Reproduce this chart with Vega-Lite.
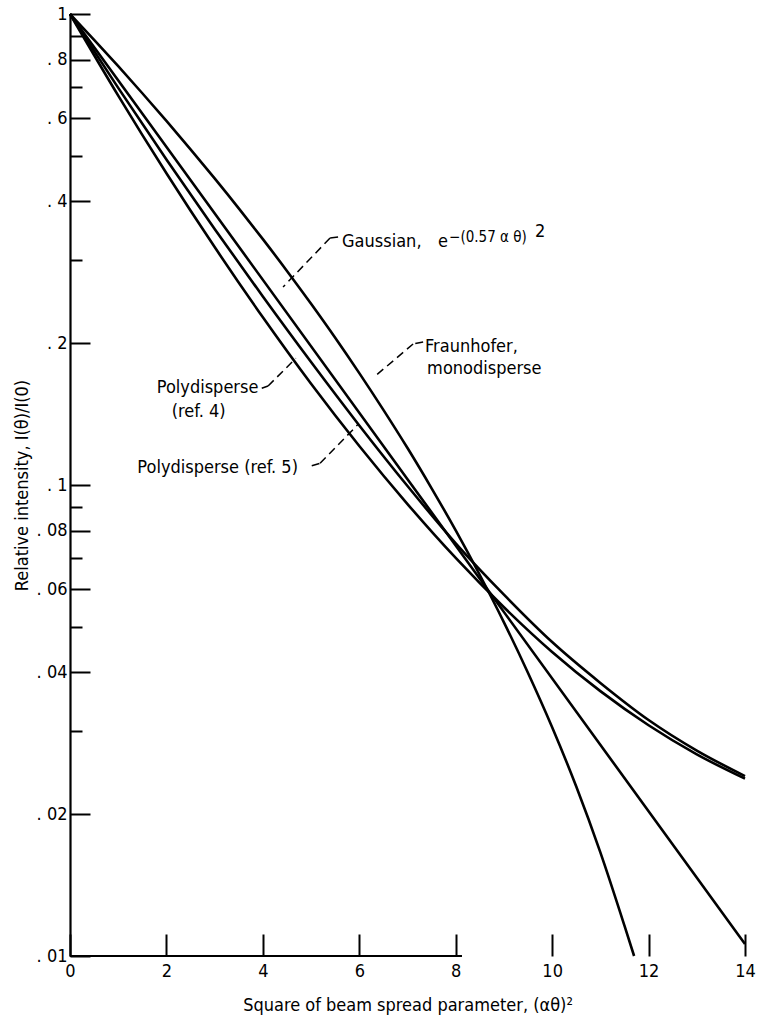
{
  "$schema": "https://vega.github.io/schema/vega-lite/v6.json",
  "width": 675,
  "height": 942,
  "autosize": {"type": "none"},
  "padding": {"left": 70, "top": 14, "right": 15, "bottom": 60},
  "background": "white",
  "config": {"view": {"stroke": null}, "font": "Liberation Sans Narrow, DejaVu Sans Condensed, Liberation Sans, sans-serif"},
  "datasets": {
    "curves": [
      {"s": "Gaussian", "x": 0, "y": 1},
      {"s": "Gaussian", "x": 7, "y": 0.1029},
      {"s": "Gaussian", "x": 14, "y": 0.0106},
      {"s": "Fraunhofer", "x": 0, "y": 1},
      {"s": "Fraunhofer", "x": 0.5, "y": 0.8813},
      {"s": "Fraunhofer", "x": 1, "y": 0.7746},
      {"s": "Fraunhofer", "x": 1.5, "y": 0.6788},
      {"s": "Fraunhofer", "x": 2, "y": 0.5929},
      {"s": "Fraunhofer", "x": 2.5, "y": 0.5161},
      {"s": "Fraunhofer", "x": 3, "y": 0.4476},
      {"s": "Fraunhofer", "x": 3.5, "y": 0.3867},
      {"s": "Fraunhofer", "x": 4, "y": 0.3326},
      {"s": "Fraunhofer", "x": 4.5, "y": 0.2848},
      {"s": "Fraunhofer", "x": 5, "y": 0.2425},
      {"s": "Fraunhofer", "x": 5.5, "y": 0.2054},
      {"s": "Fraunhofer", "x": 6, "y": 0.1728},
      {"s": "Fraunhofer", "x": 6.5, "y": 0.1444},
      {"s": "Fraunhofer", "x": 7, "y": 0.1198},
      {"s": "Fraunhofer", "x": 7.5, "y": 0.0984},
      {"s": "Fraunhofer", "x": 8, "y": 0.0801},
      {"s": "Fraunhofer", "x": 8.5, "y": 0.0644},
      {"s": "Fraunhofer", "x": 9, "y": 0.0511},
      {"s": "Fraunhofer", "x": 9.5, "y": 0.0399},
      {"s": "Fraunhofer", "x": 10, "y": 0.0306},
      {"s": "Fraunhofer", "x": 10.5, "y": 0.0229},
      {"s": "Fraunhofer", "x": 11, "y": 0.0166},
      {"s": "Fraunhofer", "x": 11.5, "y": 0.0116},
      {"s": "Fraunhofer", "x": 11.7, "y": 0.0100},
      {"s": "Poly4", "x": 0, "y": 1},
      {"s": "Poly4", "x": 1, "y": 0.671},
      {"s": "Poly4", "x": 2, "y": 0.459},
      {"s": "Poly4", "x": 3, "y": 0.320},
      {"s": "Poly4", "x": 4, "y": 0.227},
      {"s": "Poly4", "x": 5, "y": 0.164},
      {"s": "Poly4", "x": 6, "y": 0.121},
      {"s": "Poly4", "x": 7, "y": 0.0911},
      {"s": "Poly4", "x": 8, "y": 0.0700},
      {"s": "Poly4", "x": 9, "y": 0.0550},
      {"s": "Poly4", "x": 10, "y": 0.0442},
      {"s": "Poly4", "x": 11, "y": 0.0365},
      {"s": "Poly4", "x": 12, "y": 0.0309},
      {"s": "Poly4", "x": 13, "y": 0.0268},
      {"s": "Poly4", "x": 14, "y": 0.0238},
      {"s": "Poly5", "x": 0, "y": 1},
      {"s": "Poly5", "x": 1, "y": 0.697},
      {"s": "Poly5", "x": 2, "y": 0.491},
      {"s": "Poly5", "x": 3, "y": 0.3496},
      {"s": "Poly5", "x": 4, "y": 0.2513},
      {"s": "Poly5", "x": 5, "y": 0.1824},
      {"s": "Poly5", "x": 6, "y": 0.1338},
      {"s": "Poly5", "x": 7, "y": 0.0995},
      {"s": "Poly5", "x": 8, "y": 0.0752},
      {"s": "Poly5", "x": 9, "y": 0.0585},
      {"s": "Poly5", "x": 10, "y": 0.0464},
      {"s": "Poly5", "x": 11, "y": 0.0380},
      {"s": "Poly5", "x": 12, "y": 0.0317},
      {"s": "Poly5", "x": 13, "y": 0.0273},
      {"s": "Poly5", "x": 14, "y": 0.0241}
    ],
    "leaders": [
      {"x1": 5.560, "y1": 0.3361, "x2": 5.394, "y2": 0.3345},
      {"x1": 5.394, "y1": 0.3345, "x2": 4.419, "y2": 0.2633},
      {"x1": 7.324, "y1": 0.2012, "x2": 7.116, "y2": 0.1992},
      {"x1": 7.116, "y1": 0.1992, "x2": 6.328, "y2": 0.1703},
      {"x1": 3.977, "y1": 0.1605, "x2": 4.108, "y2": 0.1622},
      {"x1": 4.108, "y1": 0.1622, "x2": 4.683, "y2": 0.1858},
      {"x1": 5.014, "y1": 0.1099, "x2": 5.187, "y2": 0.1112},
      {"x1": 5.187, "y1": 0.1112, "x2": 5.981, "y2": 0.1347}
    ],
    "labels": [
      {"t": "Gaussian,", "x": 5.643, "y": 0.3200},
      {"t": "e", "x": 7.635, "y": 0.3200},
      {"t": "Fraunhofer,", "x": 7.365, "y": 0.1916},
      {"t": "monodisperse", "x": 7.407, "y": 0.1720},
      {"t": "Polydisperse", "x": 1.80, "y": 0.1568},
      {"t": "(ref. 4)", "x": 2.11, "y": 0.1396},
      {"t": "Polydisperse (ref. 5)", "x": 1.397, "y": 0.1059}
    ],
    "sup1": [{"t": "−(0.57 α θ)", "x": 7.863, "y": 0.3281}],
    "sup2": [{"t": "2", "x": 9.647, "y": 0.3361}],
    "baseline": [{"x": 0, "x2": 8.13, "y": 0.01}]
  },
  "layer": [
    {
      "data": {"name": "curves"},
      "mark": {"type": "line", "color": "black", "strokeWidth": 2.6, "interpolate": "monotone"},
      "encoding": {
        "x": {
          "field": "x", "type": "quantitative",
          "scale": {"domain": [0, 14], "nice": false, "zero": false},
          "axis": {
            "values": [0, 2, 4, 6, 8, 10, 12, 14],
            "format": "d",
            "tickSize": -22, "tickWidth": 2, "tickColor": "black",
            "domain": false, "grid": false, "labelFlush": false,
            "labelFontSize": 18, "labelColor": "black", "labelPadding": 28,
            "title": "Square of beam spread parameter, (αθ)²",
            "titleFontSize": 18, "titleFontWeight": "normal", "titleColor": "black", "titlePadding": 16
          }
        },
        "y": {
          "field": "y", "type": "quantitative",
          "scale": {"type": "log", "domain": [0.01, 1], "nice": false},
          "axis": {
            "values": [1, 0.8, 0.6, 0.4, 0.2, 0.1, 0.08, 0.06, 0.04, 0.02, 0.01],
            "labelExpr": "datum.value >= 1 ? '1' : replace(format(datum.value, '.2~f'), '0.', '. ')",
            "tickSize": -20, "tickWidth": 2, "tickColor": "black",
            "domain": true, "domainColor": "black", "domainWidth": 2.2, "grid": false, "labelFlush": false,
            "labelFontSize": 18, "labelColor": "black", "labelPadding": 23,
            "title": "Relative intensity, I(θ)/I(0)",
            "titleFontSize": 18, "titleFontWeight": "normal", "titleColor": "black", "titlePadding": 5
          }
        },
        "detail": {"field": "s"}
      }
    },
    {
      "data": {"name": "baseline"},
      "mark": {"type": "rule", "color": "black", "strokeWidth": 2},
      "encoding": {
        "x": {"field": "x", "type": "quantitative", "scale": {"domain": [0, 14], "nice": false, "zero": false}},
        "x2": {"field": "x2"},
        "y": {
          "field": "y", "type": "quantitative",
          "scale": {"type": "log", "domain": [0.01, 1], "nice": false},
          "axis": {
            "orient": "left",
            "values": [0.9, 0.7, 0.5, 0.3, 0.09, 0.07, 0.05, 0.03],
            "labels": false, "domain": false, "grid": false,
            "tickSize": -12, "tickWidth": 2, "tickColor": "black",
            "title": null
          }
        }
      }
    },
    {
      "data": {"name": "leaders"},
      "mark": {"type": "rule", "color": "black", "strokeWidth": 1.5, "strokeDash": [8, 5]},
      "encoding": {
        "x": {"field": "x1", "type": "quantitative", "scale": {"domain": [0, 14], "nice": false, "zero": false}},
        "x2": {"field": "x2"},
        "y": {"field": "y1", "type": "quantitative", "scale": {"type": "log", "domain": [0.01, 1], "nice": false}, "axis": null},
        "y2": {"field": "y2"}
      }
    },
    {
      "data": {"name": "labels"},
      "mark": {"type": "text", "align": "left", "baseline": "alphabetic", "fontSize": 18, "color": "black"},
      "encoding": {
        "x": {"field": "x", "type": "quantitative", "scale": {"domain": [0, 14], "nice": false, "zero": false}},
        "y": {"field": "y", "type": "quantitative", "scale": {"type": "log", "domain": [0.01, 1], "nice": false}, "axis": null},
        "text": {"field": "t"}
      }
    },
    {
      "data": {"name": "sup1"},
      "mark": {"type": "text", "align": "left", "baseline": "alphabetic", "fontSize": 15, "color": "black"},
      "encoding": {
        "x": {"field": "x", "type": "quantitative", "scale": {"domain": [0, 14], "nice": false, "zero": false}},
        "y": {"field": "y", "type": "quantitative", "scale": {"type": "log", "domain": [0.01, 1], "nice": false}, "axis": null},
        "text": {"field": "t"}
      }
    },
    {
      "data": {"name": "sup2"},
      "mark": {"type": "text", "align": "left", "baseline": "alphabetic", "fontSize": 18, "color": "black"},
      "encoding": {
        "x": {"field": "x", "type": "quantitative", "scale": {"domain": [0, 14], "nice": false, "zero": false}},
        "y": {"field": "y", "type": "quantitative", "scale": {"type": "log", "domain": [0.01, 1], "nice": false}, "axis": null},
        "text": {"field": "t"}
      }
    }
  ],
  "resolve": {"axis": {"y": "independent"}}
}
